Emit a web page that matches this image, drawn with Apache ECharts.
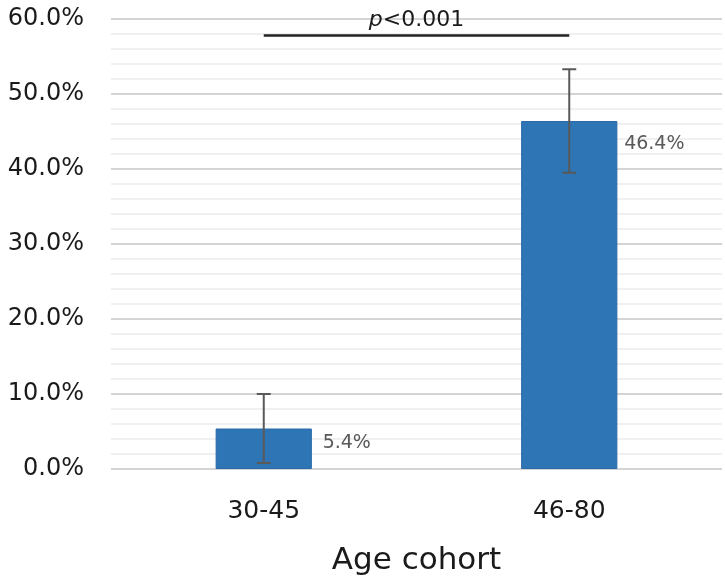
<!DOCTYPE html>
<html>
<head>
<meta charset="utf-8">
<script src="https://cdn.jsdelivr.net/npm/echarts@6/dist/echarts.min.js"></script>
<style>
  html, body { margin: 0; padding: 0; background: #fff; }
  #chart { width: 725px; height: 581px; }
</style>
</head>
<body>
<div id="chart"></div>
<script>
const categories = ['30-45', '46-80']
const percentValues = [5.4, 46.4]
const errorLow = [0.8, 39.5]
const errorHigh = [10.0, 53.3]
const yTicks = [0, 10, 20, 30, 40, 50, 60]
const sigLevel = 57.8
const xTitle = 'Age cohort'

const chart = echarts.init(document.getElementById('chart'))

const labelFont = 'DejaVu Sans'
// 手动微调的标签位置（相对柱子左上角）
const labelOffsets = [[107, 15], [103, 23]]

chart.setOption({
  animation: false,
  grid: { left: 111, right: 3, top: 19, bottom: 112, outerBoundsMode: 'none' },
  xAxis: {
    type: 'category',
    data: categories,
    name: xTitle,
    nameLocation: 'middle',
    nameGap: 76,
    nameTextStyle: { color: '#1a1a1a', fontSize: 31, fontFamily: labelFont },
    axisLine: { show: false },
    axisTick: { show: false },
    axisLabel: { color: '#1a1a1a', fontSize: 25, fontFamily: labelFont, margin: 30 },
  },
  yAxis: {
    type: 'value',
    min: yTicks[0],
    max: yTicks[yTicks.length - 1],
    interval: 10,
    axisLine: { show: false },
    axisTick: { show: false },
    axisLabel: {
      color: '#1a1a1a',
      fontSize: 24,
      fontFamily: labelFont,
      margin: 27,
      formatter: (v) => v.toFixed(1) + '%',
    },
    splitLine: { lineStyle: { color: '#d4d4d4', width: 2 } },
    minorTick: { show: false, splitNumber: 5 },
    minorSplitLine: { show: true, lineStyle: { color: '#ececec', width: 1.5 } },
  },
  series: [
    {
      type: 'bar',
      barWidth: '31.5%',
      data: percentValues.map((v, i) => ({
        value: v,
        label: {
          show: true,
          position: labelOffsets[i],
          verticalAlign: 'middle',
          formatter: (p) => p.value.toFixed(1) + '%',
          color: '#595959',
          fontSize: 19,
          fontFamily: labelFont,
        },
      })),
      itemStyle: { color: '#2e75b6', borderColor: '#2a6aa8', borderWidth: 1 },
      markLine: {
        silent: true,
        symbol: 'none',
        lineStyle: { color: '#222', width: 2.5, type: 'solid' },
        label: {
          show: true,
          position: 'middle',
          distance: 4,
          formatter: '{i|p}<0.001',
          color: '#1a1a1a',
          fontSize: 22,
          fontFamily: labelFont,
          rich: {
            i: { fontStyle: 'italic', fontSize: 22, fontFamily: labelFont, color: '#1a1a1a' },
          },
        },
        data: [[
          { coord: [categories[0], sigLevel] },
          { coord: [categories[1], sigLevel] },
        ]],
      },
    },
    {
      type: 'custom',
      data: categories.map((c, i) => [i, errorLow[i], errorHigh[i]]),
      z: 10,
      renderItem: (params, api) => {
        const x = api.value(0)
        const lo = api.coord([x, api.value(1)])
        const hi = api.coord([x, api.value(2)])
        const cap = 7
        const style = { stroke: '#595959', lineWidth: 2 }
        return {
          type: 'group',
          children: [
            { type: 'line', shape: { x1: lo[0], y1: lo[1], x2: hi[0], y2: hi[1] }, style },
            { type: 'line', shape: { x1: hi[0] - cap, y1: hi[1], x2: hi[0] + cap, y2: hi[1] }, style },
            { type: 'line', shape: { x1: lo[0] - cap, y1: lo[1], x2: lo[0] + cap, y2: lo[1] }, style },
          ],
        }
      },
    },
  ],
})
</script>
</body>
</html>
